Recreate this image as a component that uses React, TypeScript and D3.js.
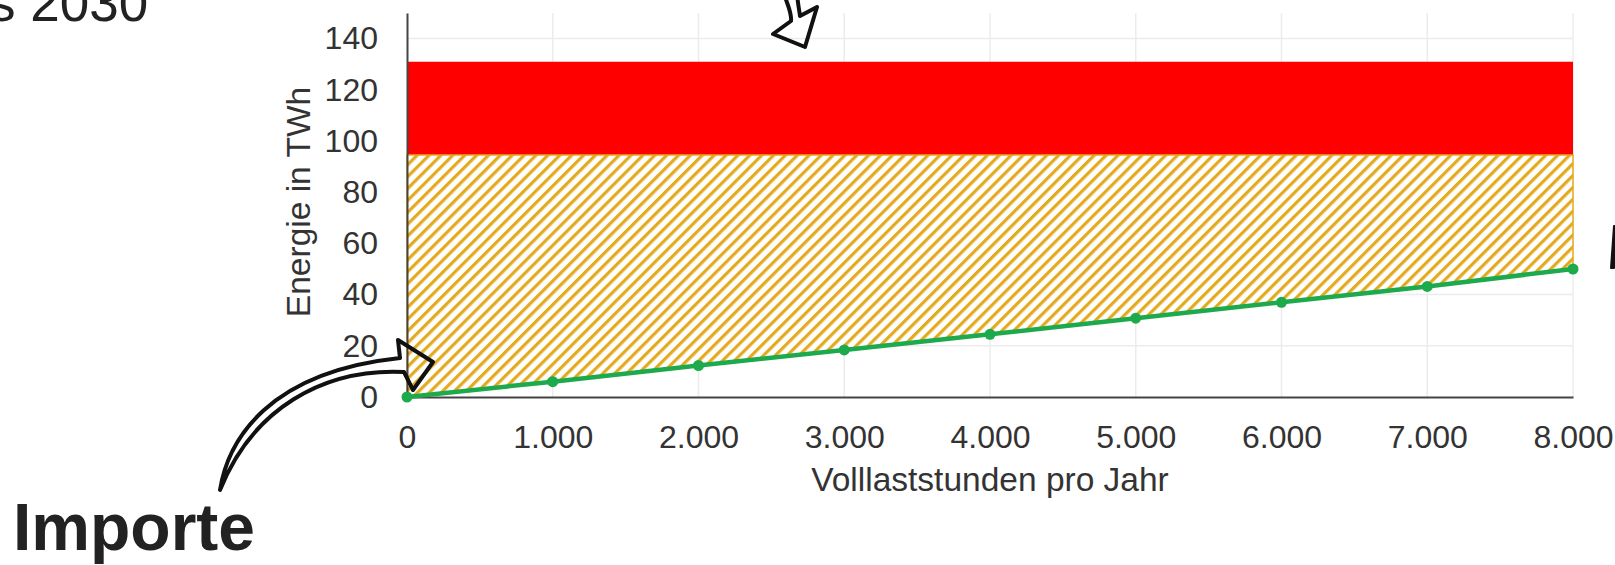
import React, { useEffect, useRef } from "react";
import * as d3 from "d3";

// Volllaststunden (x) and energy in TWh (y)
const hours = [0, 1000, 2000, 3000, 4000, 5000, 6000, 7000, 8000];
const importTWh = [0, 6, 12.3, 18.4, 24.5, 30.8, 37, 43.2, 50];
const hatchTopTWh = [94.5, 94.5, 94.5, 94.5, 94.5, 94.5, 94.5, 94.5, 94.5];
const redTopTWh = [131, 131, 131, 131, 131, 131, 131, 131, 131];

const xTickValues = [0, 1000, 2000, 3000, 4000, 5000, 6000, 7000, 8000];
const yTickValues = [0, 20, 40, 60, 80, 100, 120, 140];

const xTitle = "Volllaststunden pro Jahr";
const yTitle = "Energie in TWh";
const topText = "s 2030";
const importText = "Importe";

const width = 1615;
const height = 565;
const marginLeft = 407;
const marginRight = 42;
const marginTop = 13;
const marginBottom = 168;

const font = "'Liberation Sans', Arial, sans-serif";
const textColor = "#333";
const gold = "#E3AA1E";
const green = "#1DAA4C";

const de = d3.formatLocale({
  decimal: ",",
  thousands: ".",
  grouping: [3],
  currency: ["", " €"],
});

function drawChart(node: SVGSVGElement) {
  const svg = d3.select(node);
  svg.selectAll("*").remove();

  const x = d3
    .scaleLinear()
    .domain([0, 8000])
    .range([marginLeft, width - marginRight]);
  const y = d3
    .scaleLinear()
    .domain([0, 150])
    .range([height - marginBottom, marginTop]);

  const rows = hours.map((h, i) => ({
    h,
    imp: importTWh[i],
    hatch: hatchTopTWh[i],
    red: redTopTWh[i],
  }));

  // hatch pattern
  const defs = svg.append("defs");
  const pat = defs
    .append("pattern")
    .attr("id", "hatch")
    .attr("patternUnits", "userSpaceOnUse")
    .attr("width", 8.4)
    .attr("height", 8.4)
    .attr("patternTransform", "rotate(45)");
  pat.append("rect").attr("width", 8.4).attr("height", 8.4).attr("fill", "#fff");
  pat.append("rect").attr("width", 3.2).attr("height", 8.4).attr("fill", gold);

  // grid
  svg
    .append("g")
    .attr("stroke", "#ececec")
    .attr("stroke-width", 1.5)
    .selectAll("line")
    .data(yTickValues.filter((d) => d > 0))
    .join("line")
    .attr("x1", x(0))
    .attr("x2", x(8000))
    .attr("y1", (d) => y(d))
    .attr("y2", (d) => y(d));
  svg
    .append("g")
    .attr("stroke", "#ececec")
    .attr("stroke-width", 1.5)
    .selectAll("line")
    .data(xTickValues.filter((d) => d > 0))
    .join("line")
    .attr("x1", (d) => x(d))
    .attr("x2", (d) => x(d))
    .attr("y1", y(0))
    .attr("y2", y(150));

  // red band
  const redArea = d3
    .area<any>()
    .x((d) => x(d.h))
    .y0((d) => y(d.hatch))
    .y1((d) => y(d.red));
  svg.append("path").datum(rows).attr("d", redArea).attr("fill", "#ff0000");

  // hatched band
  const hatchArea = d3
    .area<any>()
    .x((d) => x(d.h))
    .y0((d) => y(d.imp))
    .y1((d) => y(d.hatch));
  svg
    .append("path")
    .datum(rows)
    .attr("d", hatchArea)
    .attr("fill", "url(#hatch)")
    .attr("stroke", gold)
    .attr("stroke-width", 1.5);

  // axes
  const xAxis = svg
    .append("g")
    .attr("transform", `translate(0,${y(0)})`)
    .call(
      d3
        .axisBottom(x)
        .tickValues(xTickValues)
        .tickSize(0)
        .tickSizeOuter(0)
        .tickPadding(28)
        .tickFormat((d: any) => de.format(",")(d))
    );
  const yAxis = svg
    .append("g")
    .attr("transform", `translate(${x(0)},0)`)
    .call(
      d3
        .axisLeft(y)
        .tickValues(yTickValues)
        .tickSize(0)
        .tickSizeOuter(0)
        .tickPadding(29)
    );
  [xAxis, yAxis].forEach((g) => {
    g.attr("font-family", font).attr("font-size", 32);
    g.selectAll("text").attr("fill", textColor);
    g.select(".domain").attr("stroke", "#444").attr("stroke-width", 2);
  });

  // import line + points
  const line = d3
    .line<any>()
    .x((d) => x(d.h))
    .y((d) => y(d.imp));
  svg
    .append("path")
    .datum(rows)
    .attr("d", line)
    .attr("fill", "none")
    .attr("stroke", green)
    .attr("stroke-width", 4.5);
  svg
    .append("g")
    .attr("fill", green)
    .selectAll("circle")
    .data(rows)
    .join("circle")
    .attr("cx", (d) => x(d.h))
    .attr("cy", (d) => y(d.imp))
    .attr("r", 5.5);

  // axis titles
  svg
    .append("text")
    .attr("x", (x(0) + x(8000)) / 2)
    .attr("y", 491)
    .attr("text-anchor", "middle")
    .attr("font-family", font)
    .attr("font-size", 33.5)
    .attr("fill", textColor)
    .text(xTitle);
  svg
    .append("text")
    .attr("transform", `translate(310,${(y(0) + y(150)) / 2 - 3}) rotate(-90)`)
    .attr("text-anchor", "middle")
    .attr("font-family", font)
    .attr("font-size", 33.5)
    .attr("fill", textColor)
    .text(yTitle);

  // slide texts around the chart
  svg
    .append("text")
    .attr("x", -11)
    .attr("y", 21)
    .attr("font-family", font)
    .attr("font-size", 53)
    .attr("fill", "#222")
    .text(topText);
  svg
    .append("text")
    .attr("x", 13)
    .attr("y", 550)
    .attr("font-family", font)
    .attr("font-weight", "bold")
    .attr("font-size", 66)
    .attr("fill", "#222")
    .text(importText);

  // hand drawn arrows
  const arrows = svg
    .append("g")
    .attr("fill", "none")
    .attr("stroke", "#111")
    .attr("stroke-width", 4)
    .attr("stroke-linejoin", "round")
    .attr("stroke-linecap", "round");
  arrows
    .append("path")
    .attr(
      "d",
      "M783,-10 C787,5 792,12 791,21 L773,34 L805,47 L817,7 L800,16 C799,8 797,0 797,-10"
    );
  arrows
    .append("path")
    .attr(
      "d",
      "M220,490 C228,440 268,372 400,358 L398,340 L433,362 L413,390 L404,372 C322,368 252,410 220,490 Z"
    );
  arrows
    .append("path")
    .attr("fill", "#111")
    .attr("stroke-width", 2)
    .attr("d", "M1614,226 L1618,226 L1614,268 L1611,268 Z");
}

export default function App() {
  const ref = useRef<SVGSVGElement>(null);
  useEffect(() => {
    if (ref.current) drawChart(ref.current);
  }, []);
  return (
    <svg
      ref={ref}
      width={width}
      height={height}
      style={{ position: "absolute", left: 0, top: 0, background: "#fff" }}
    />
  );
}
